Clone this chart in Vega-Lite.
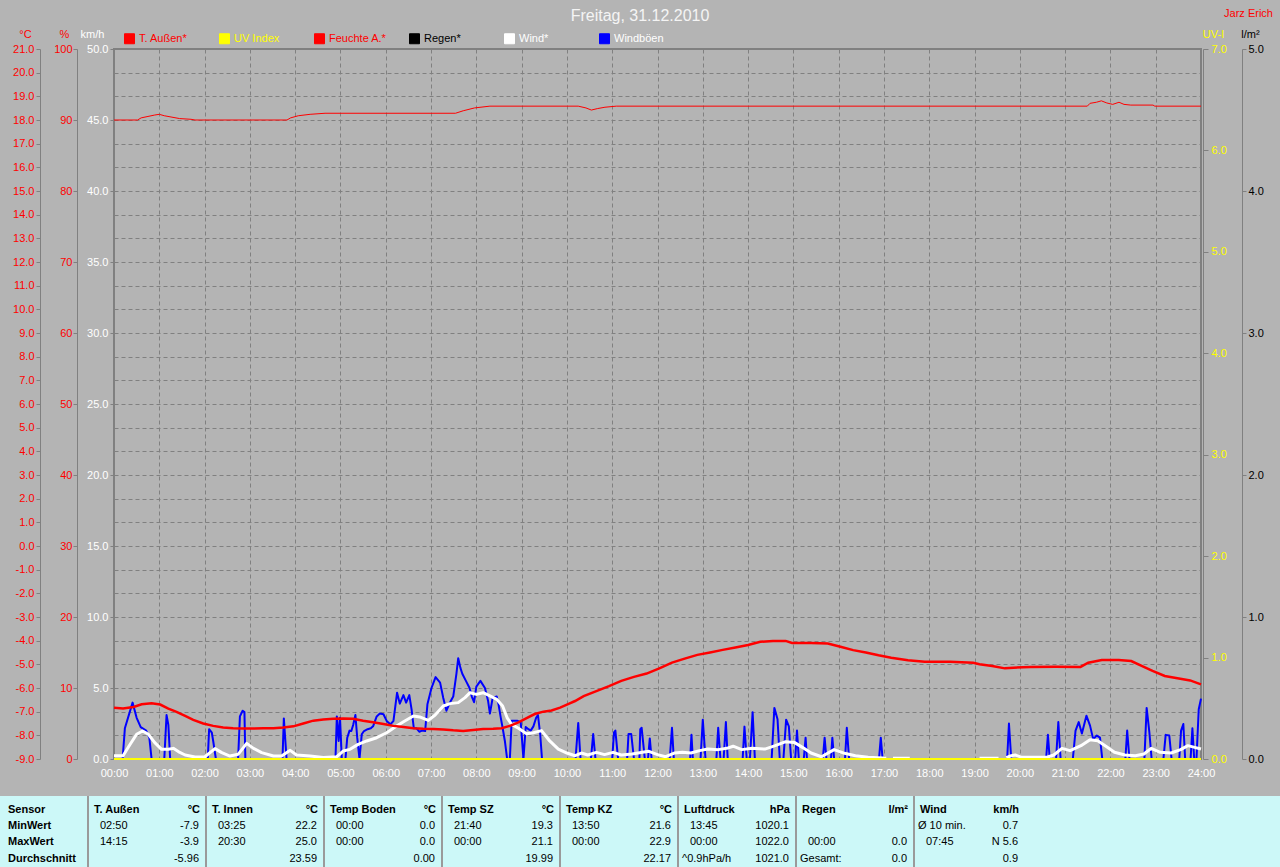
{
  "$schema": "https://vega.github.io/schema/vega-lite/v6.json",
  "autosize": {"type": "pad"},
  "padding": {"top": 7, "left": 0, "right": 0, "bottom": 0},
  "background": "#b4b4b4",
  "bounds": "flush",
  "spacing": 37,
  "title": {"text": "Freitag, 31.12.2010", "anchor": "middle", "frame": "bounds", "fontSize": 16, "fontWeight": "normal", "color": "#f4f4f4", "offset": -33, "font": "Liberation Sans", "baseline": "bottom"},
  "config": {
    "font": "Liberation Sans",
    "view": {"stroke": null},
    "axis": {"labelFont": "Liberation Sans", "labelFontSize": 11, "titleFont": "Liberation Sans", "titleFontSize": 11, "titleFontWeight": "normal", "domainColor": "#808080", "tickColor": "#808080", "gridColor": "#808080", "gridDash": [4, 3], "gridOpacity": 1, "labelOverlap": false, "labelFlush": false, "grid": false, "tickSize": 4}
  },
  "datasets": {
    "temp": [
      {"h":0,"v":-6.83},{"h":0.2,"v":-6.87},{"h":0.43,"v":-6.8},{"h":0.61,"v":-6.69},{"h":0.83,"v":-6.64},{"h":1.02,"v":-6.7},{"h":1.2,"v":-6.87},{"h":1.38,"v":-7.01},{"h":1.57,"v":-7.18},{"h":1.75,"v":-7.35},{"h":1.97,"v":-7.5},{"h":2.19,"v":-7.6},{"h":2.41,"v":-7.67},{"h":2.63,"v":-7.7},{"h":2.86,"v":-7.71},{"h":3.08,"v":-7.71},{"h":3.3,"v":-7.7},{"h":3.52,"v":-7.7},{"h":3.74,"v":-7.67},{"h":3.96,"v":-7.62},{"h":4.18,"v":-7.5},{"h":4.4,"v":-7.38},{"h":4.62,"v":-7.33},{"h":4.84,"v":-7.3},{"h":5.06,"v":-7.29},{"h":5.28,"v":-7.3},{"h":5.5,"v":-7.38},{"h":5.72,"v":-7.45},{"h":5.95,"v":-7.52},{"h":6.17,"v":-7.6},{"h":6.39,"v":-7.65},{"h":6.61,"v":-7.7},{"h":6.83,"v":-7.72},{"h":7.05,"v":-7.73},{"h":7.27,"v":-7.75},{"h":7.49,"v":-7.79},{"h":7.71,"v":-7.82},{"h":7.93,"v":-7.77},{"h":8.15,"v":-7.73},{"h":8.37,"v":-7.72},{"h":8.56,"v":-7.7},{"h":8.74,"v":-7.6},{"h":8.93,"v":-7.45},{"h":9.11,"v":-7.27},{"h":9.29,"v":-7.1},{"h":9.48,"v":-7.0},{"h":9.66,"v":-6.95},{"h":9.85,"v":-6.83},{"h":10.05,"v":-6.66},{"h":10.18,"v":-6.55},{"h":10.37,"v":-6.34},{"h":10.65,"v":-6.13},{"h":10.93,"v":-5.92},{"h":11.2,"v":-5.7},{"h":11.48,"v":-5.53},{"h":11.76,"v":-5.39},{"h":12.04,"v":-5.17},{"h":12.32,"v":-4.93},{"h":12.6,"v":-4.76},{"h":12.88,"v":-4.6},{"h":13.16,"v":-4.5},{"h":13.44,"v":-4.39},{"h":13.72,"v":-4.29},{"h":14.0,"v":-4.18},{"h":14.27,"v":-4.05},{"h":14.55,"v":-4.01},{"h":14.83,"v":-4.01},{"h":14.97,"v":-4.1},{"h":15.39,"v":-4.1},{"h":15.76,"v":-4.12},{"h":16.04,"v":-4.26},{"h":16.32,"v":-4.4},{"h":16.6,"v":-4.5},{"h":16.88,"v":-4.62},{"h":17.16,"v":-4.72},{"h":17.53,"v":-4.83},{"h":17.9,"v":-4.89},{"h":18.46,"v":-4.89},{"h":18.97,"v":-4.93},{"h":19.11,"v":-5.0},{"h":19.39,"v":-5.07},{"h":19.67,"v":-5.17},{"h":19.86,"v":-5.14},{"h":20.23,"v":-5.11},{"h":20.79,"v":-5.1},{"h":21.34,"v":-5.11},{"h":21.51,"v":-4.93},{"h":21.81,"v":-4.82},{"h":22.18,"v":-4.82},{"h":22.46,"v":-4.86},{"h":22.69,"v":-5.07},{"h":22.93,"v":-5.28},{"h":23.2,"v":-5.49},{"h":23.48,"v":-5.59},{"h":23.76,"v":-5.68},{"h":24,"v":-5.85}
    ],
    "hum": [
      {"h":0,"v":90.0},{"h":0.52,"v":90.0},{"h":0.6,"v":90.3},{"h":0.75,"v":90.5},{"h":0.9,"v":90.7},{"h":1.0,"v":90.8},{"h":1.11,"v":90.6},{"h":1.28,"v":90.4},{"h":1.45,"v":90.2},{"h":1.7,"v":90.1},{"h":1.79,"v":90.0},{"h":3.82,"v":90.0},{"h":3.9,"v":90.3},{"h":4.07,"v":90.6},{"h":4.33,"v":90.8},{"h":4.66,"v":90.95},{"h":7.54,"v":90.95},{"h":7.71,"v":91.3},{"h":7.96,"v":91.7},{"h":8.3,"v":91.95},{"h":10.25,"v":91.95},{"h":10.42,"v":91.7},{"h":10.54,"v":91.4},{"h":10.67,"v":91.6},{"h":10.84,"v":91.8},{"h":11.09,"v":91.95},{"h":21.49,"v":91.95},{"h":21.55,"v":92.35},{"h":21.69,"v":92.5},{"h":21.8,"v":92.7},{"h":21.92,"v":92.4},{"h":22.05,"v":92.2},{"h":22.19,"v":92.5},{"h":22.3,"v":92.2},{"h":22.45,"v":92.1},{"h":22.94,"v":92.1},{"h":22.98,"v":91.95},{"h":24,"v":91.95}
    ],
    "wind": [
      {"h":0,"v":0.23},{"h":0.2,"v":0.23},{"h":0.35,"v":1.0},{"h":0.5,"v":1.74},{"h":0.63,"v":1.97},{"h":0.76,"v":1.74},{"h":0.9,"v":1.15},{"h":1.05,"v":0.68},{"h":1.2,"v":0.68},{"h":1.31,"v":0.75},{"h":1.42,"v":0.52},{"h":1.57,"v":0.28},{"h":1.79,"v":0.14},{"h":2.0,"v":0.14},{"h":2.23,"v":0.73},{"h":2.38,"v":0.45},{"h":2.56,"v":0.21},{"h":2.74,"v":0.33},{"h":2.93,"v":1.1},{"h":3.08,"v":0.75},{"h":3.26,"v":0.45},{"h":3.52,"v":0.21},{"h":3.7,"v":0.21},{"h":3.89,"v":0.61},{"h":4.03,"v":0.28},{"h":4.33,"v":0.21},{"h":4.62,"v":0.1},{"h":4.92,"v":0.16},{"h":5.06,"v":0.56},{"h":5.21,"v":0.68},{"h":5.39,"v":1.03},{"h":5.58,"v":1.27},{"h":5.8,"v":1.5},{"h":6.02,"v":1.85},{"h":6.24,"v":2.32},{"h":6.42,"v":2.68},{"h":6.61,"v":3.03},{"h":6.75,"v":2.96},{"h":6.94,"v":2.72},{"h":7.09,"v":3.1},{"h":7.27,"v":3.73},{"h":7.42,"v":3.9},{"h":7.6,"v":3.97},{"h":7.75,"v":4.32},{"h":7.86,"v":4.67},{"h":8.0,"v":4.55},{"h":8.15,"v":4.67},{"h":8.3,"v":4.44},{"h":8.45,"v":4.2},{"h":8.58,"v":3.73},{"h":8.68,"v":2.9},{"h":8.78,"v":2.44},{"h":8.93,"v":2.16},{"h":9.11,"v":1.78},{"h":9.26,"v":1.85},{"h":9.44,"v":2.0},{"h":9.62,"v":1.27},{"h":9.81,"v":0.7},{"h":10.0,"v":0.42},{"h":10.18,"v":0.23},{"h":10.32,"v":0.42},{"h":10.46,"v":0.28},{"h":10.65,"v":0.47},{"h":10.83,"v":0.31},{"h":11.02,"v":0.47},{"h":11.2,"v":0.28},{"h":11.44,"v":0.35},{"h":11.67,"v":0.47},{"h":11.81,"v":0.54},{"h":12.0,"v":0.31},{"h":12.18,"v":0.16},{"h":12.37,"v":0.42},{"h":12.55,"v":0.47},{"h":12.74,"v":0.42},{"h":12.93,"v":0.59},{"h":13.11,"v":0.7},{"h":13.34,"v":0.66},{"h":13.53,"v":0.75},{"h":13.67,"v":0.9},{"h":13.86,"v":0.66},{"h":14.09,"v":0.75},{"h":14.37,"v":0.7},{"h":14.6,"v":0.94},{"h":14.83,"v":1.22},{"h":15.02,"v":1.17},{"h":15.2,"v":0.82},{"h":15.39,"v":0.42},{"h":15.62,"v":0.16},{"h":15.9,"v":0.66},{"h":16.13,"v":0.4},{"h":16.37,"v":0.23},{"h":16.65,"v":0.12},{"h":16.97,"v":0.07},{"h":17.05,"v":0.05},{"h":17.1,"v":null},{"h":17.2,"v":0.05},{"h":17.57,"v":0.05},{"h":17.6,"v":null},{"h":19.11,"v":0.05},{"h":19.53,"v":0.05},{"h":19.6,"v":null},{"h":19.7,"v":0.1},{"h":19.81,"v":0.23},{"h":19.9,"v":0.28},{"h":20.04,"v":0.12},{"h":20.3,"v":0.12},{"h":20.6,"v":0.12},{"h":20.75,"v":0.28},{"h":20.93,"v":0.75},{"h":21.11,"v":0.59},{"h":21.35,"v":0.94},{"h":21.55,"v":1.36},{"h":21.72,"v":1.29},{"h":21.9,"v":0.9},{"h":22.09,"v":0.47},{"h":22.32,"v":0.28},{"h":22.55,"v":0.23},{"h":22.74,"v":0.35},{"h":22.9,"v":0.75},{"h":23.1,"v":0.47},{"h":23.34,"v":0.42},{"h":23.55,"v":0.66},{"h":23.71,"v":0.94},{"h":23.86,"v":0.82},{"h":24,"v":0.7}
    ],
    "gust": [
      {"h":0,"v":0},{"h":0.19,"v":0},{"h":0.24,"v":2.16},{"h":0.41,"v":3.97},{"h":0.5,"v":2.9},{"h":0.59,"v":2.25},{"h":0.71,"v":2.0},{"h":0.78,"v":1.5},{"h":0.83,"v":0},{"h":1.11,"v":0},{"h":1.16,"v":3.1},{"h":1.2,"v":2.4},{"h":1.24,"v":0},{"h":2.07,"v":0},{"h":2.1,"v":2.1},{"h":2.16,"v":1.85},{"h":2.19,"v":1.27},{"h":2.25,"v":0},{"h":2.74,"v":0},{"h":2.78,"v":3.0},{"h":2.84,"v":3.4},{"h":2.88,"v":3.3},{"h":2.9,"v":0},{"h":3.72,"v":0},{"h":3.75,"v":2.86},{"h":3.81,"v":0},{"h":4.89,"v":0},{"h":4.92,"v":3.0},{"h":4.96,"v":1.27},{"h":4.99,"v":2.9},{"h":5.03,"v":0},{"h":5.11,"v":0},{"h":5.15,"v":1.5},{"h":5.2,"v":2.0},{"h":5.24,"v":1.97},{"h":5.28,"v":2.4},{"h":5.33,"v":3.1},{"h":5.37,"v":1.5},{"h":5.42,"v":0},{"h":5.47,"v":1.74},{"h":5.52,"v":1.97},{"h":5.6,"v":2.1},{"h":5.67,"v":2.16},{"h":5.72,"v":2.3},{"h":5.8,"v":3.0},{"h":5.87,"v":3.2},{"h":5.95,"v":3.15},{"h":6.02,"v":2.68},{"h":6.1,"v":2.44},{"h":6.17,"v":2.68},{"h":6.25,"v":4.67},{"h":6.31,"v":3.9},{"h":6.39,"v":4.5},{"h":6.45,"v":3.97},{"h":6.52,"v":4.5},{"h":6.57,"v":3.5},{"h":6.62,"v":2.16},{"h":6.68,"v":2.16},{"h":6.74,"v":1.92},{"h":6.8,"v":2.0},{"h":6.87,"v":1.97},{"h":6.92,"v":3.85},{"h":7.01,"v":5.0},{"h":7.1,"v":5.77},{"h":7.2,"v":5.38},{"h":7.27,"v":4.3},{"h":7.34,"v":3.4},{"h":7.42,"v":4.0},{"h":7.49,"v":4.4},{"h":7.56,"v":6.0},{"h":7.6,"v":7.1},{"h":7.65,"v":6.4},{"h":7.69,"v":6.0},{"h":7.77,"v":5.5},{"h":7.85,"v":5.0},{"h":7.9,"v":4.4},{"h":7.95,"v":4.0},{"h":8.0,"v":5.1},{"h":8.09,"v":5.5},{"h":8.19,"v":5.0},{"h":8.26,"v":4.08},{"h":8.3,"v":3.2},{"h":8.36,"v":4.3},{"h":8.45,"v":4.4},{"h":8.49,"v":3.85},{"h":8.54,"v":2.9},{"h":8.58,"v":2.2},{"h":8.63,"v":1.27},{"h":8.68,"v":0},{"h":8.74,"v":0},{"h":8.78,"v":2.7},{"h":8.83,"v":2.7},{"h":8.9,"v":2.7},{"h":8.98,"v":2.6},{"h":9.04,"v":0},{"h":9.09,"v":2.25},{"h":9.15,"v":2.1},{"h":9.2,"v":2.0},{"h":9.26,"v":2.3},{"h":9.32,"v":2.9},{"h":9.36,"v":3.1},{"h":9.41,"v":1.74},{"h":9.45,"v":0},{"h":10.19,"v":0},{"h":10.25,"v":2.54},{"h":10.3,"v":0},{"h":10.53,"v":0},{"h":10.58,"v":1.76},{"h":10.63,"v":0},{"h":11.0,"v":0},{"h":11.04,"v":1.88},{"h":11.07,"v":2.0},{"h":11.13,"v":0},{"h":11.33,"v":0},{"h":11.36,"v":1.76},{"h":11.42,"v":1.76},{"h":11.48,"v":0},{"h":11.6,"v":0},{"h":11.62,"v":2.1},{"h":11.65,"v":2.2},{"h":11.72,"v":0},{"h":11.79,"v":0},{"h":11.83,"v":1.45},{"h":11.87,"v":0},{"h":12.27,"v":0},{"h":12.32,"v":2.2},{"h":12.36,"v":0},{"h":12.72,"v":0},{"h":12.75,"v":1.7},{"h":12.78,"v":0},{"h":12.95,"v":0},{"h":13.0,"v":2.77},{"h":13.06,"v":0},{"h":13.3,"v":0},{"h":13.34,"v":2.2},{"h":13.39,"v":0},{"h":13.46,"v":0},{"h":13.51,"v":2.6},{"h":13.55,"v":0},{"h":13.88,"v":0},{"h":13.92,"v":2.28},{"h":13.97,"v":0},{"h":14.04,"v":0},{"h":14.1,"v":3.3},{"h":14.15,"v":0},{"h":14.52,"v":0},{"h":14.58,"v":3.6},{"h":14.65,"v":2.8},{"h":14.7,"v":0},{"h":14.78,"v":0},{"h":14.84,"v":2.77},{"h":14.9,"v":2.3},{"h":14.95,"v":0},{"h":15.04,"v":0},{"h":15.08,"v":2.0},{"h":15.12,"v":0},{"h":15.23,"v":0},{"h":15.27,"v":1.5},{"h":15.3,"v":0},{"h":15.65,"v":0},{"h":15.69,"v":1.5},{"h":15.73,"v":0},{"h":15.83,"v":0},{"h":15.86,"v":1.5},{"h":15.9,"v":0},{"h":16.14,"v":0},{"h":16.18,"v":2.2},{"h":16.23,"v":0},{"h":16.89,"v":0},{"h":16.93,"v":1.5},{"h":16.97,"v":0},{"h":19.72,"v":0},{"h":19.76,"v":2.5},{"h":19.81,"v":0},{"h":20.58,"v":0},{"h":20.62,"v":1.7},{"h":20.66,"v":0},{"h":20.8,"v":0},{"h":20.85,"v":2.6},{"h":20.9,"v":0},{"h":21.17,"v":0},{"h":21.23,"v":2.0},{"h":21.3,"v":2.6},{"h":21.37,"v":1.8},{"h":21.47,"v":3.05},{"h":21.55,"v":2.35},{"h":21.62,"v":1.4},{"h":21.7,"v":1.65},{"h":21.77,"v":1.5},{"h":21.82,"v":0},{"h":22.33,"v":0},{"h":22.37,"v":2.0},{"h":22.42,"v":0},{"h":22.75,"v":0},{"h":22.8,"v":3.6},{"h":22.86,"v":1.88},{"h":22.91,"v":0},{"h":23.17,"v":0},{"h":23.22,"v":1.7},{"h":23.3,"v":1.65},{"h":23.35,"v":0},{"h":23.52,"v":0},{"h":23.56,"v":2.0},{"h":23.61,"v":2.46},{"h":23.65,"v":0},{"h":23.77,"v":0},{"h":23.81,"v":2.16},{"h":23.85,"v":0},{"h":23.9,"v":0},{"h":23.95,"v":3.5},{"h":24,"v":4.25}
    ],
    "uv": [{"h":0,"v":0},{"h":24,"v":0}],
    "rain": [{"h":0,"v":0},{"h":24,"v":0}],
    "tbl": [
      {"b":0,"r":"h","L":"Sensor","R":""},{"b":0,"r":"min","L":"MinWert","R":""},{"b":0,"r":"max","L":"MaxWert","R":""},{"b":0,"r":"avg","L":"Durchschnitt","R":""},
      {"b":1,"r":"h","L":"T. Außen","R":"°C"},{"b":1,"r":"min","L":"02:50","R":"-7.9"},{"b":1,"r":"max","L":"14:15","R":"-3.9"},{"b":1,"r":"avg","L":"","R":"-5.96"},
      {"b":2,"r":"h","L":"T. Innen","R":"°C"},{"b":2,"r":"min","L":"03:25","R":"22.2"},{"b":2,"r":"max","L":"20:30","R":"25.0"},{"b":2,"r":"avg","L":"","R":"23.59"},
      {"b":3,"r":"h","L":"Temp Boden","R":"°C"},{"b":3,"r":"min","L":"00:00","R":"0.0"},{"b":3,"r":"max","L":"00:00","R":"0.0"},{"b":3,"r":"avg","L":"","R":"0.00"},
      {"b":4,"r":"h","L":"Temp SZ","R":"°C"},{"b":4,"r":"min","L":"21:40","R":"19.3"},{"b":4,"r":"max","L":"00:00","R":"21.1"},{"b":4,"r":"avg","L":"","R":"19.99"},
      {"b":5,"r":"h","L":"Temp KZ","R":"°C"},{"b":5,"r":"min","L":"13:50","R":"21.6"},{"b":5,"r":"max","L":"00:00","R":"22.9"},{"b":5,"r":"avg","L":"","R":"22.17"},
      {"b":6,"r":"h","L":"Luftdruck","R":"hPa"},{"b":6,"r":"min","L":"13:45","R":"1020.1"},{"b":6,"r":"max","L":"00:00","R":"1022.0"},{"b":6,"r":"avg","L":"^0.9hPa/h","R":"1021.0"},
      {"b":7,"r":"h","L":"Regen","R":"l/m²"},{"b":7,"r":"min","L":"","R":""},{"b":7,"r":"max","L":"00:00","R":"0.0"},{"b":7,"r":"avg","L":"Gesamt:","R":"0.0"},
      {"b":8,"r":"h","L":"Wind","R":"km/h"},{"b":8,"r":"min","L":"Ø 10 min.","R":"0.7"},{"b":8,"r":"max","L":"07:45","R":"N 5.6"},{"b":8,"r":"avg","L":"","R":"0.9"}
    ]
  },
  "vconcat": [
    {
      "width": 1087,
      "height": 710,
      "title": {"text": "Jarz Erich", "anchor": "end", "frame": "group", "dx": 72, "offset": -2, "color": "#ff0000", "fontSize": 11, "fontWeight": "normal", "font": "Liberation Sans", "baseline": "bottom"},
      "view": {"stroke": "#808080", "strokeWidth": 2},
      "encoding": {
        "x": {"field": "h", "type": "quantitative", "scale": {"domain": [0, 24], "nice": false, "zero": false},
          "axis": {"title": null, "values": [0,1,2,3,4,5,6,7,8,9,10,11,12,13,14,15,16,17,18,19,20,21,22,23,24], "labelExpr": "(datum.value < 10 ? '0' : '') + datum.value + ':00'", "labelColor": "#ffffff", "grid": true, "tickSize": 0, "labelPadding": 8, "domainColor": "#808080"}}
      },
      "layer": [
        {
          "data": {"name": "rain"},
          "mark": {"type": "line", "strokeWidth": 1},
          "encoding": {
            "y": {"field": "v", "type": "quantitative", "scale": {"domain": [0, 5], "nice": false, "zero": false},
              "axis": {"orient": "right", "offset": 41, "values": [0,1,2,3,4,5], "format": ".1f", "labelColor": "#000000", "tickSize": 4, "labelPadding": 2, "title": "l/m²", "titleColor": "#000000", "titleAngle": 0, "titleX": 8, "titleY": -15, "titleAlign": "center", "titleBaseline": "middle"}},
            "color": {"datum": "T. Außen*", "type": "nominal",
              "scale": {"domain": ["T. Außen*", "UV Index", "Feuchte A.*", "Regen*", "Wind*", "Windböen"], "range": ["#ff0000", "#ffff00", "#ff0000", "#000000", "#ffffff", "#0000ff"]},
              "legend": {"orient": "none", "legendX": 10, "legendY": -16, "direction": "horizontal", "columns": 6, "title": null, "symbolType": "square", "symbolSize": 100, "symbolStrokeColor": "#ffffff", "symbolStrokeWidth": 1, "labelFontSize": 11, "labelFont": "Liberation Sans", "labelOffset": 4, "columnPadding": 20, "gridAlign": "all",
                "encode": {"symbols": {"update": {"fill": {"scale": "color", "field": "value"}, "stroke": {"value": "#ffffff"}, "strokeWidth": {"value": 1}, "opacity": {"value": 1}}},
                           "labels": {"update": {"fill": {"signal": "datum.label == 'UV Index' ? '#ffff00' : datum.label == 'Regen*' ? '#000000' : (datum.label == 'Wind*' || datum.label == 'Windböen') ? '#ffffff' : '#ff0000'"}}}}}}
          }
        },
        {
          "data": {"name": "hum"},
          "mark": {"type": "line", "strokeWidth": 1},
          "encoding": {
            "y": {"field": "v", "type": "quantitative", "scale": {"domain": [0, 100], "nice": false, "zero": false},
              "axis": {"orient": "left", "offset": 37, "values": [0,10,20,30,40,50,60,70,80,90,100], "format": "d", "labelColor": "#ff0000", "tickSize": 4, "labelPadding": 1, "title": "%", "titleColor": "#ff0000", "titleAngle": 0, "titleX": -13, "titleY": -15, "titleAlign": "center", "titleBaseline": "middle"}},
            "color": {"datum": "Feuchte A.*", "type": "nominal"}
          }
        },
        {
          "data": {"name": "gust"},
          "mark": {"type": "line", "strokeWidth": 2, "strokeJoin": "round"},
          "encoding": {
            "y": {"field": "v", "type": "quantitative", "scale": {"domain": [0, 50], "nice": false, "zero": false}, "axis": null},
            "color": {"datum": "Windböen", "type": "nominal"}
          }
        },
        {
          "data": {"name": "wind"},
          "mark": {"type": "line", "strokeWidth": 3, "strokeJoin": "round", "invalid": "break-paths-show-domains"},
          "encoding": {
            "y": {"field": "v", "type": "quantitative", "scale": {"domain": [0, 50], "nice": false, "zero": false},
              "axis": {"orient": "left", "offset": 0, "values": [0,5,10,15,20,25,30,35,40,45,50], "format": ".1f", "labelColor": "#ffffff", "tickSize": 4, "labelPadding": 2, "title": "km/h", "titleColor": "#ffffff", "titleAngle": 0, "titleX": -22, "titleY": -15, "titleAlign": "center", "titleBaseline": "middle"}},
            "color": {"datum": "Wind*", "type": "nominal"}
          }
        },
        {
          "data": {"name": "temp"},
          "mark": {"type": "line", "strokeWidth": 2.5},
          "encoding": {
            "y": {"field": "v", "type": "quantitative", "scale": {"domain": [-9, 21], "nice": false, "zero": false},
              "axis": {"orient": "left", "offset": 74, "values": [-9,-8,-7,-6,-5,-4,-3,-2,-1,0,1,2,3,4,5,6,7,8,9,10,11,12,13,14,15,16,17,18,19,20,21], "labelExpr": "(datum.value < 0 ? '-' : '') + format(abs(datum.value), '.1f')", "labelColor": "#ff0000", "tickSize": 4, "labelPadding": 2, "grid": true, "title": "°C", "titleColor": "#ff0000", "titleAngle": 0, "titleX": -15, "titleY": -15, "titleAlign": "center", "titleBaseline": "middle"}},
            "color": {"datum": "T. Außen*", "type": "nominal"}
          }
        },
        {
          "data": {"name": "uv"},
          "mark": {"type": "line", "strokeWidth": 2},
          "encoding": {
            "y": {"field": "v", "type": "quantitative", "scale": {"domain": [0, 7], "nice": false, "zero": false},
              "axis": {"orient": "right", "offset": 2, "values": [0,1,2,3,4,5,6,7], "format": ".1f", "labelColor": "#ffff00", "tickSize": 5, "labelPadding": 3, "title": "UV-I", "titleColor": "#ffff00", "titleAngle": 0, "titleX": 10, "titleY": -15, "titleAlign": "center", "titleBaseline": "middle"}},
            "color": {"datum": "UV Index", "type": "nominal"}
          }
        }
      ],
      "resolve": {"scale": {"y": "independent"}, "axis": {"y": "independent"}}
    },
    {
      "width": 1087,
      "height": 72,
      "data": {"name": "tbl"},
      "layer": [
        {
          "mark": {"type": "rect", "color": "#ccf8f8"},
          "encoding": {
            "x": {"datum": 0, "type": "quantitative", "scale": {"domain": [0, 1], "range": [-114, 1166], "nice": false, "zero": false}, "axis": null},
            "x2": {"datum": 1}
          }
        },
        {
          "transform": [{"filter": "datum.r == 'h' && datum.b >= 1"}],
          "mark": {"type": "rule", "color": "#9a9a9a", "strokeWidth": 2},
          "encoding": {
            "x": {"field": "b", "type": "quantitative", "scale": {"domain": [1, 9], "range": [-26, 918], "nice": false, "zero": false}, "axis": null}
          }
        },
        {
          "transform": [{"filter": "datum.r == 'h' || datum.b == 0"}],
          "mark": {"type": "text", "align": "left", "baseline": "middle", "dx": 6, "fontSize": 11, "fontWeight": "bold", "color": "#000000"},
          "encoding": {
            "x": {"field": "b", "type": "quantitative", "scale": {"domain": [0, 1, 9], "range": [-112, -26, 918], "nice": false, "zero": false}, "axis": null},
            "y": {"field": "r", "type": "ordinal", "scale": {"type": "point", "domain": ["h", "min", "max", "avg"], "range": [14, 62.5], "padding": 0}, "axis": null},
            "text": {"field": "L"}
          }
        },
        {
          "transform": [{"filter": "datum.r != 'h' && datum.b > 0 && test(/^[0-9][0-9]:[0-9][0-9]$/, datum.L)"}],
          "mark": {"type": "text", "align": "left", "baseline": "middle", "dx": 12, "fontSize": 11, "color": "#000000"},
          "encoding": {
            "x": {"field": "b", "type": "quantitative", "scale": {"domain": [0, 1, 9], "range": [-112, -26, 918], "nice": false, "zero": false}, "axis": null},
            "y": {"field": "r", "type": "ordinal", "scale": {"type": "point", "domain": ["h", "min", "max", "avg"], "range": [14, 62.5], "padding": 0}, "axis": null},
            "text": {"field": "L"}
          }
        },
        {
          "transform": [{"filter": "datum.r != 'h' && datum.b > 0 && datum.L != '' && !test(/^[0-9][0-9]:[0-9][0-9]$/, datum.L)"}],
          "mark": {"type": "text", "align": "left", "baseline": "middle", "dx": 4, "fontSize": 11, "color": "#000000"},
          "encoding": {
            "x": {"field": "b", "type": "quantitative", "scale": {"domain": [0, 1, 9], "range": [-112, -26, 918], "nice": false, "zero": false}, "axis": null},
            "y": {"field": "r", "type": "ordinal", "scale": {"type": "point", "domain": ["h", "min", "max", "avg"], "range": [14, 62.5], "padding": 0}, "axis": null},
            "text": {"field": "L"}
          }
        },
        {
          "transform": [{"filter": "datum.r == 'h' && datum.b > 0"}],
          "mark": {"type": "text", "align": "right", "baseline": "middle", "dx": -6, "fontSize": 11, "fontWeight": "bold", "color": "#000000"},
          "encoding": {
            "x": {"field": "b", "type": "quantitative", "scale": {"domain": [1, 7, 8], "range": [92, 800, 911], "nice": false, "zero": false}, "axis": null},
            "y": {"field": "r", "type": "ordinal", "scale": {"type": "point", "domain": ["h", "min", "max", "avg"], "range": [14, 62.5], "padding": 0}, "axis": null},
            "text": {"field": "R"}
          }
        },
        {
          "transform": [{"filter": "datum.r != 'h' && datum.b > 0"}],
          "mark": {"type": "text", "align": "right", "baseline": "middle", "dx": -7, "fontSize": 11, "color": "#000000"},
          "encoding": {
            "x": {"field": "b", "type": "quantitative", "scale": {"domain": [1, 7, 8], "range": [92, 800, 911], "nice": false, "zero": false}, "axis": null},
            "y": {"field": "r", "type": "ordinal", "scale": {"type": "point", "domain": ["h", "min", "max", "avg"], "range": [14, 62.5], "padding": 0}, "axis": null},
            "text": {"field": "R"}
          }
        }
      ],
      "resolve": {"scale": {"x": "independent", "y": "independent"}}
    }
  ]
}
